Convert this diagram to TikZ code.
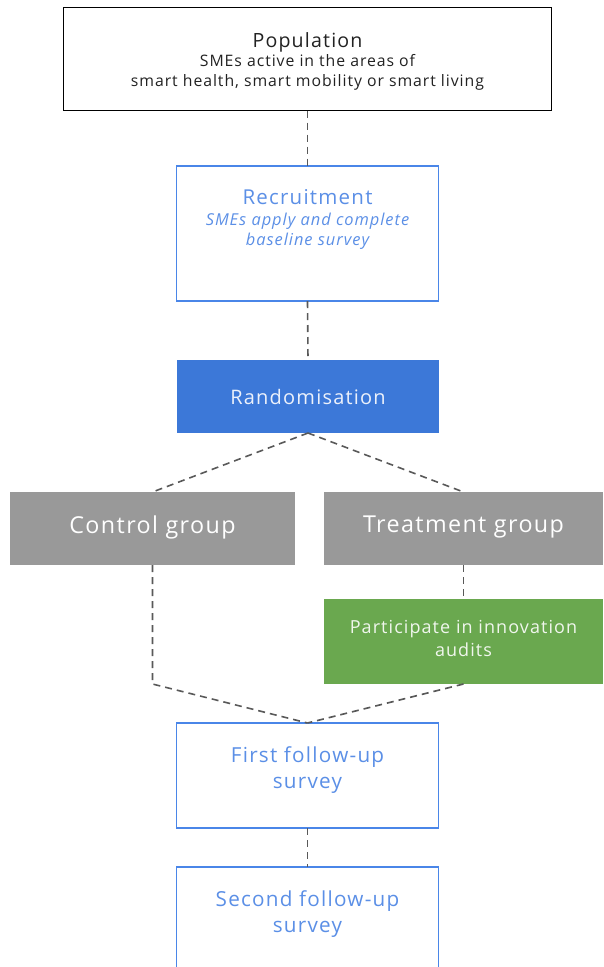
\documentclass[tikz,border=0pt]{standalone}
\usepackage{fontspec}
\setmainfont{Open Sans}[LetterSpace=6]
\usetikzlibrary{positioning}

\definecolor{boxblue}{HTML}{4A86E8}
\definecolor{textblue}{HTML}{5B8FE6}
\definecolor{randblue}{HTML}{3C78D8}
\definecolor{groupgray}{HTML}{999999}
\definecolor{auditgreen}{HTML}{6AA84F}
\definecolor{linkgray}{HTML}{595959}
\definecolor{darktext}{HTML}{222222}

\newcommand{\fsz}[2]{\fontsize{#1}{#2}\selectfont}

\begin{document}
\begin{tikzpicture}[x=1pt, y=-1pt,
    every node/.style={outer sep=0pt, align=center},
    outlinebox/.style={draw=boxblue, line width=1.5pt, minimum width=262pt, inner sep=0pt},
    filledbox/.style={fill=#1, minimum height=73pt, inner sep=0pt},
    link/.style={draw=linkgray, line width=1.6pt, dash pattern=on 7pt off 5pt}]

    \useasboundingbox (0,0) rectangle (603,967);

    \node[draw=black, line width=1.6pt, minimum width=488pt, minimum height=103pt] (pop) at (307.5,59) {};
    \node[anchor=north, text=darktext, font=\fsz{15.8}{20}] (poptxt) at (307.5,29)
        {\fsz{19.6}{24}Population\\[-1pt] \fsz{15.8}{20}SMEs active in the areas of\\smart health, smart mobility or smart living};

    \node[outlinebox, minimum height=135pt, anchor=north] (recruit) at (307.5,166) {};
    \node[text=textblue, anchor=north, font=\fsz{16.4}{20}\itshape] (recruittxt) at (307.5,186)
        {\fsz{20.5}{24}\upshape Recruitment\\[1pt] \fsz{16.4}{20}SMEs apply and complete\\baseline survey};

    \node[filledbox=randblue, minimum width=262pt, text=white!90!randblue, font=\fsz{20}{24}] (rand) at (308,396.5)
        {Randomisation};

    \node[filledbox=groupgray, minimum width=285pt] (ctrl) at (152.5,528.5) {};
    \node[text=white, font=\fsz{23.3}{26}] (ctrltxt) at (152.5,527) {Control group};
    \node[filledbox=groupgray, minimum width=279pt] (treat) at (463.5,528.5) {};
    \node[text=white, font=\fsz{23.3}{26}] (treattxt) at (463.5,527) {Treatment group};

    \node[filledbox=auditgreen, minimum width=279pt, minimum height=85pt] (audit) at (463.5,641.5) {};
    \node[text=white!90!auditgreen, font=\fsz{18}{23}] (audittxt) at (463.5,638)
        {Participate in innovation\\audits};

    \node[outlinebox, minimum height=105pt, anchor=north] (first) at (307.5,723) {};
    \node[text=textblue, font=\fsz{20.7}{26}, anchor=north] (firsttxt) at (307.5,743.5)
        {First follow-up\\survey};

    \node[outlinebox, minimum height=110pt, anchor=north] (second) at (307.5,867) {};
    \node[text=textblue, font=\fsz{20.7}{26}, anchor=north] (secondtxt) at (307.5,887.5)
        {Second follow-up\\survey};

    \coordinate (ctrlbend) at (ctrl.south |- audit.south);

    \draw[link] (pop.south) -- (recruit.north);
    \draw[link] (recruit.south) -- (rand.north);
    \draw[link] (rand.south) -- (ctrl.north);
    \draw[link] (rand.south) -- (treat.north);
    \draw[link] (treat.south) -- (audit.north);
    \draw[link] (ctrl.south) -- (ctrlbend) -- (first.north);
    \draw[link] (audit.south) -- (first.north);
    \draw[link] (first.south) -- (second.north);
\end{tikzpicture}
\end{document}
